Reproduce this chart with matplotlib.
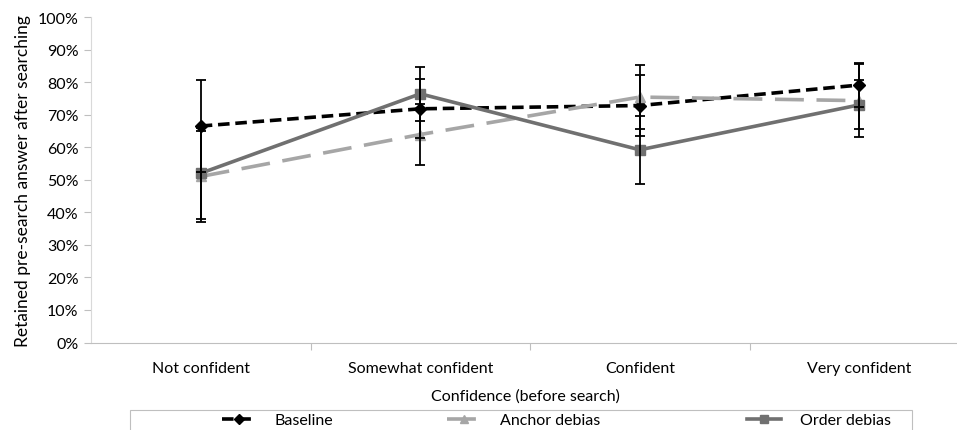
import matplotlib.pyplot as plt
from matplotlib.patches import Rectangle
from matplotlib.ticker import PercentFormatter

plt.rcParams["font.family"] = ["Lato", "DejaVu Sans"]

categories = ["Not confident", "Somewhat confident", "Confident", "Very confident"]

baseline = [0.665, 0.718, 0.728, 0.791]
baseline_err = [0.14, 0.09, 0.095, 0.067]

anchor = [0.51, 0.639, 0.754, 0.743]
anchor_err = [0.14, 0.095, 0.099, 0.113]

order = [0.52, 0.764, 0.592, 0.73]
order_err = [0.14, 0.082, 0.104, 0.075]

fig = plt.figure(figsize=(9.57, 4.31), dpi=100)
ax = fig.add_axes([91 / 957, 1 - 343.5 / 431, 878 / 957, 325.5 / 431])

x = list(range(len(categories)))

series = [
    ("Baseline", baseline, baseline_err, "#000000", "D", (3.2, 1.6), 6),
    ("Anchor debias", anchor, anchor_err, "#a6a6a6", "^", (8, 3.5), 7),
    ("Order debias", order, order_err, "#707070", "s", None, 6.5),
]

lines = []
for label, vals, err, color, marker, dash, ms in series:
    line, = ax.plot(x, vals, color=color, lw=2.6, marker=marker, ms=ms,
                    label=label, zorder=3)
    if dash is not None:
        line.set_dashes(dash)
    lines.append(line)
    ax.errorbar(x, vals, yerr=err, fmt="none", ecolor="black", elinewidth=1.3,
                capsize=3.8, capthick=1.3, zorder=4)

ax.set_xlim(-0.5, 3.5)
ax.set_ylim(0, 1)
ax.set_yticks([i / 10 for i in range(11)])
ax.yaxis.set_major_formatter(PercentFormatter(1.0, decimals=0))
ax.set_xticks([i + 0.5 for i in range(3)])
ax.set_xticklabels([])
ax.set_xticks(x, minor=True)
ax.set_xticklabels(categories, minor=True, fontsize=11.5)
ax.tick_params(axis="x", which="minor", length=0, pad=13)
ax.tick_params(axis="x", which="major", length=5, color="#bfbfbf", direction="out")
ax.tick_params(axis="y", length=5, color="#bfbfbf", labelsize=11.5, pad=4)

for side in ["top", "right"]:
    ax.spines[side].set_visible(False)
ax.spines["left"].set_color("#d9d9d9")
ax.spines["bottom"].set_color("#bfbfbf")

ax.set_xlabel("Confidence (before search)", fontsize=11.5)
ax.set_ylabel("Retained pre-search answer after searching", fontsize=12.5, labelpad=5)
ax.xaxis.set_label_coords((525 - 91) / 878, -0.14)

# legend box (cut off at the bottom like the original)
fig.add_artist(Rectangle((130 / 957, -0.05), 782 / 957, 0.05 + 20 / 431,
                         transform=fig.transFigure, fill=False,
                         edgecolor="#bfbfbf", lw=0.8))
legend_x = [222, 447, 747]
for line, lx in zip(lines, legend_x):
    fig.legend(handles=[line], loc="center left",
               bbox_to_anchor=(lx / 957, 1 - 421 / 431), frameon=False,
               fontsize=11.5, handlelength=2.1, handletextpad=1.2,
               borderaxespad=0, borderpad=0, markerscale=0.9)

fig.savefig("out.png", dpi=100)
